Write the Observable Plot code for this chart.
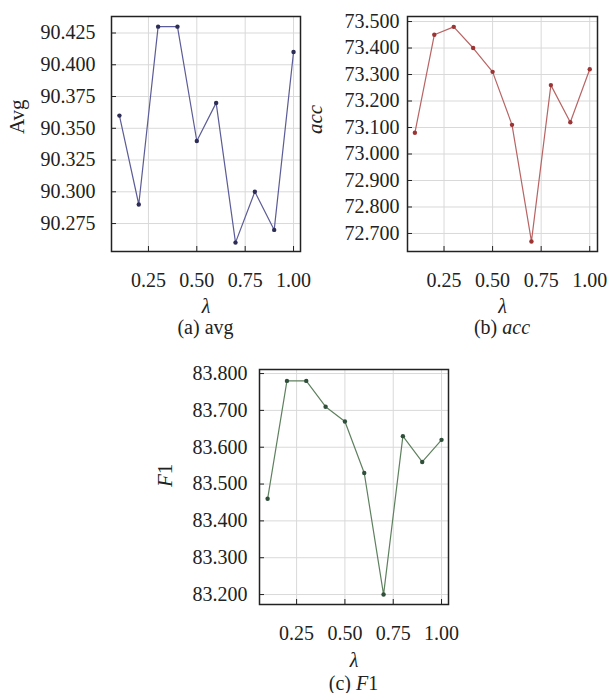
<!DOCTYPE html>
<html>
<head>
<meta charset="utf-8">
<script src="https://cdn.jsdelivr.net/npm/d3@7"></script>
<script src="https://cdn.jsdelivr.net/npm/@observablehq/plot@0.6"></script>
<style>
  html, body { margin: 0; padding: 0; background: #fff; }
  #root { position: relative; width: 607px; height: 693px; overflow: hidden; background: #fff; font-family: "Liberation Serif", "Times New Roman", serif; color: #222; }
  .panel { position: absolute; }
  .panel svg text { font-family: "Liberation Serif", "Times New Roman", serif; }
  .caption { position: absolute; transform: translate(-50%, -50%); font-size: 20px; white-space: nowrap; color: #222; }
  .caption i { font-style: italic; }
</style>
</head>
<body>
<div id="root"></div>
<script>
const lambda = [0.1, 0.2, 0.3, 0.4, 0.5, 0.6, 0.7, 0.8, 0.9, 1.0];
const avgValues = [90.36, 90.29, 90.43, 90.43, 90.34, 90.37, 90.26, 90.30, 90.27, 90.41];
const accValues = [73.08, 73.45, 73.48, 73.40, 73.31, 73.11, 72.67, 73.26, 73.12, 73.32];
const f1Values  = [83.46, 83.78, 83.78, 83.71, 83.67, 83.53, 83.20, 83.63, 83.56, 83.62];
const xTicks   = [0.25, 0.5, 0.75, 1.0];
const avgTicks = [90.275, 90.3, 90.325, 90.35, 90.375, 90.4, 90.425];
const accTicks = [72.7, 72.8, 72.9, 73.0, 73.1, 73.2, 73.3, 73.4, 73.5];
const f1Ticks  = [83.2, 83.3, 83.4, 83.5, 83.6, 83.7, 83.8];

const root = document.getElementById("root");
const SERIF = "Liberation Serif";

function panel(cfg) {
  const data = lambda.map((x, i) => ({x, y: cfg.values[i]}));
  const frameW = cfg.frameW, frameH = 235;
  const marginTop = 16, marginBottom = 89, marginRight = 10;
  const plot = Plot.plot({
    width: cfg.marginLeft + frameW + marginRight,
    height: marginTop + frameH + marginBottom,
    marginLeft: cfg.marginLeft,
    marginRight,
    marginTop,
    marginBottom,
    style: {fontFamily: SERIF, fontSize: "20px", color: "#222", background: "transparent", overflow: "visible"},
    x: {domain: cfg.xDomain, label: null},
    y: {domain: cfg.yDomain, label: null},
    marks: [
      Plot.gridX(xTicks, {stroke: "#d9d9d9", strokeOpacity: 1, strokeWidth: 1}),
      Plot.gridY(cfg.yTicks, {stroke: "#d9d9d9", strokeOpacity: 1, strokeWidth: 1}),
      Plot.line(data, {x: "x", y: "y", stroke: cfg.lineColor, strokeWidth: 1.2}),
      Plot.dot(data, {x: "x", y: "y", r: 2.2, fill: cfg.dotColor, stroke: "none"}),
      Plot.frame({stroke: "#222", strokeWidth: 1.5}),
      Plot.axisX(xTicks, {tickSize: -5, text: null, stroke: "#222", label: null}),
      Plot.axisX(xTicks, {tickSize: 0, tickPadding: 21, tickFormat: d3.format(".2f"), label: null, fontFamily: SERIF, fontSize: 20, fill: "#222"}),
      Plot.axisY(cfg.yTicks, {tickSize: -5, text: null, stroke: "#222", label: null}),
      Plot.axisY(cfg.yTicks, {tickSize: 0, tickPadding: cfg.tickPadY, tickFormat: d3.format(".3f"), label: null, fontFamily: SERIF, fontSize: 20, fill: "#222"}),
      Plot.text(["λ"], {frameAnchor: "bottom", lineAnchor: "middle", dy: cfg.lambdaDy, fontStyle: "italic", fontFamily: SERIF, fontSize: 20, fill: "#222"}),
      Plot.text([cfg.yLabel], {frameAnchor: "left", lineAnchor: "middle", rotate: -90, dx: cfg.yLabelDx, fontStyle: cfg.yLabelItalic ? "italic" : "normal", fontFamily: SERIF, fontSize: 21, fill: "#222"})
    ]
  });
  if (cfg.yLabel === "F1") {
    d3.select(plot).selectAll("text").filter(function() { return this.textContent === "F1"; })
      .each(function() {
        const t = d3.select(this);
        t.text(null).attr("font-style", null);
        t.append("tspan").attr("font-style", "italic").text("F");
        t.append("tspan").attr("font-style", "normal").text("1");
      });
  }
  const div = document.createElement("div");
  div.className = "panel";
  div.style.left = cfg.left + "px";
  div.style.top = cfg.top + "px";
  div.appendChild(plot);
  root.appendChild(div);

  const cap = document.createElement("div");
  cap.className = "caption";
  cap.style.left = (cfg.left + cfg.marginLeft + frameW / 2) + "px";
  cap.style.top = (cfg.top + cfg.capDy) + "px";
  cap.innerHTML = cfg.caption;
  root.appendChild(cap);
}

panel({
  values: avgValues, yTicks: avgTicks, yDomain: [90.253, 90.438], xDomain: [0.059, 1.036],
  lineColor: "#5c5c98", dotColor: "#2c2c55", marginLeft: 111, frameW: 189, tickPadY: 16,
  yLabel: "Avg", yLabelItalic: false, yLabelDx: -94, left: 0, top: 0,
  lambdaDy: 55, caption: "(a) avg", capDy: 327
});
panel({
  values: accValues, yTicks: accTicks, yDomain: [72.632, 73.519], xDomain: [0.062, 1.040],
  lineColor: "#b86464", dotColor: "#9c3434", marginLeft: 107, frameW: 190, tickPadY: 8,
  yLabel: "acc", yLabelItalic: true, yLabelDx: -92, left: 300, top: 0,
  lambdaDy: 55, caption: "(b) <i>acc</i>", capDy: 327
});
panel({
  values: f1Values, yTicks: f1Ticks, yDomain: [83.173, 83.811], xDomain: [0.058, 1.036],
  lineColor: "#5f805f", dotColor: "#2f4f3a", marginLeft: 109, frameW: 189, tickPadY: 12,
  yLabel: "F1", yLabelItalic: true, yLabelDx: -94, left: 150, top: 353,
  lambdaDy: 56, caption: "(c) <i>F</i>1", capDy: 330
});
</script>
</body>
</html>
